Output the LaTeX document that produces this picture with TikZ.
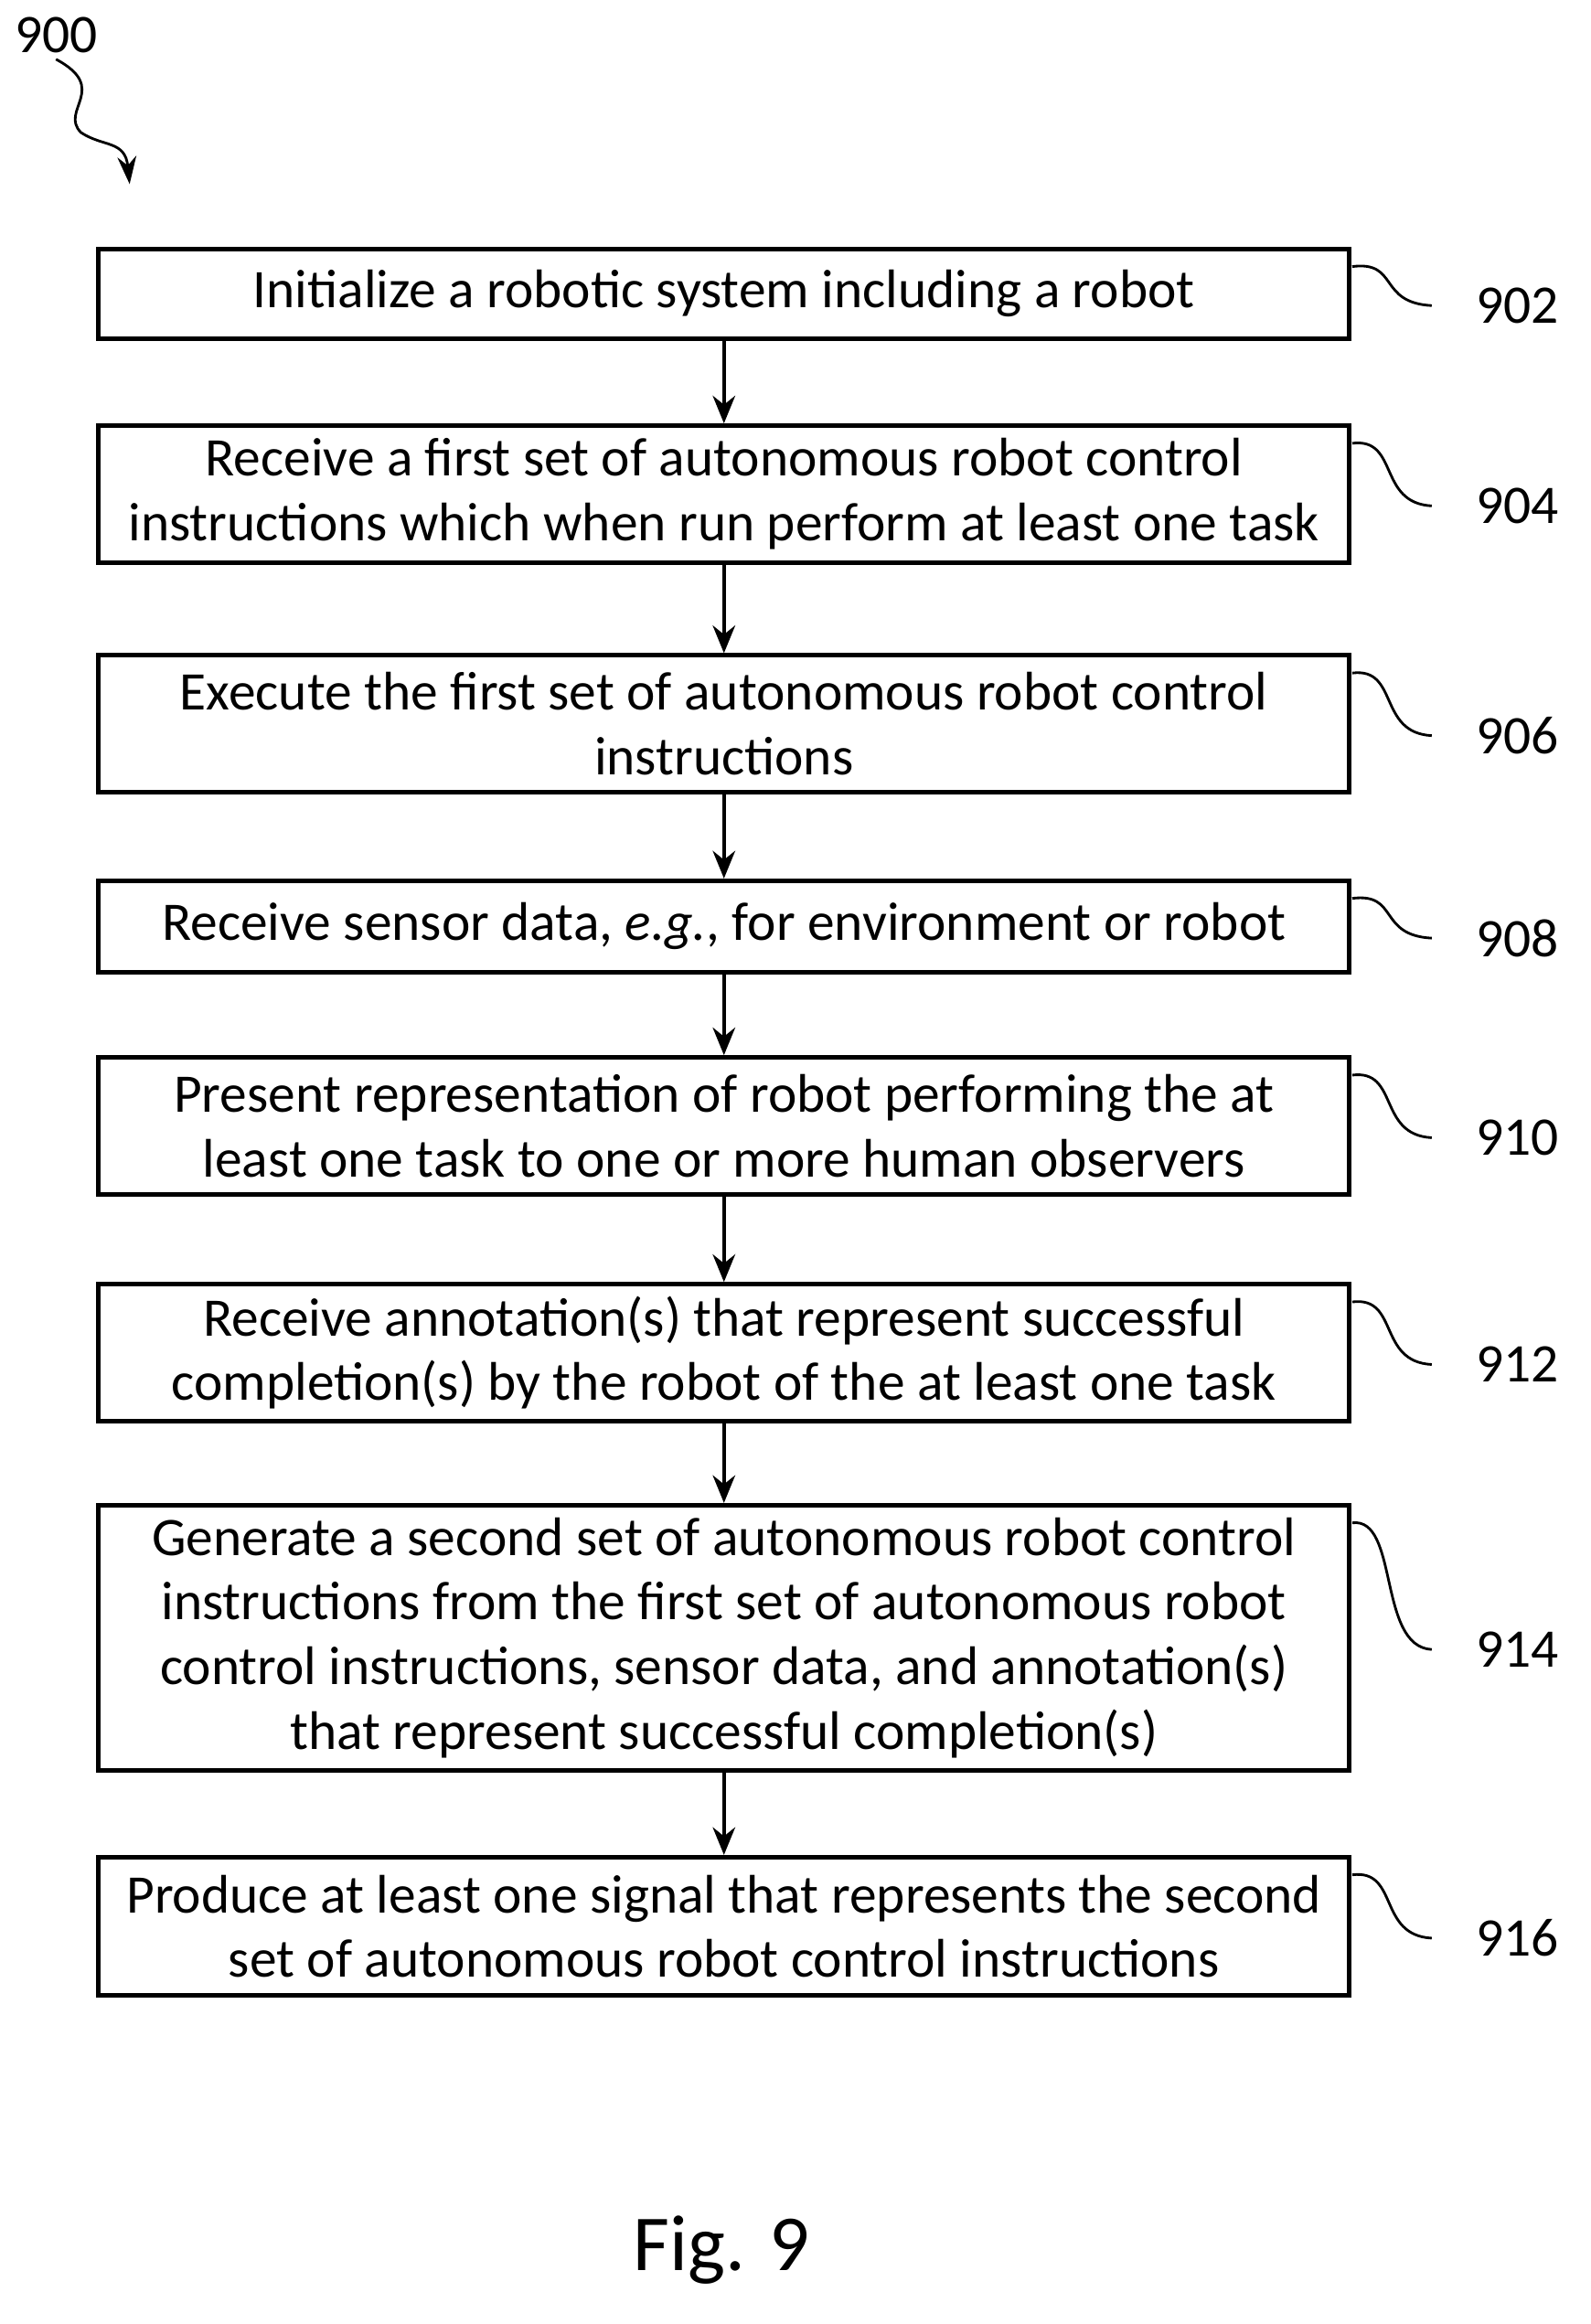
\documentclass[tikz,border=0pt]{standalone}
\usepackage{fontspec}
\setmainfont{Carlito}
\usetikzlibrary{arrows.meta}
\begin{document}
\begin{tikzpicture}[x=0.03cm,y=-0.03cm,
 box/.style={draw,line width=2.6pt,minimum width=849*0.03cm,align=center,inner sep=0pt,font=\fontsize{31.5}{37.5}\selectfont},
 arr/.style={line width=2.2pt,-{Stealth[length=16pt,width=13pt]}},
 lead/.style={line width=1.5pt},
 lab/.style={font=\fontsize{31.5}{36}\selectfont}]
\useasboundingbox (0,0) rectangle (1080,1578);
\def\B#1#2#3#4{\node[box,minimum height=(#3-#2)*0.03cm] (b#1) at (491.5,{(#2+#3)/2}) {#4};
 \draw[lead] (918,{#2+12}) .. controls (950,{#2+8}) and (935,{(#2+#3)/2+6}) .. (972,{(#2+#3)/2+8});
 \node[lab] (l#1) at (1030,{(#2+#3)/2+8}) {#1};}
\B{902}{169}{230}{Initialize a robotic system including a robot}
\B{904}{289}{382}{Receive a first set of autonomous robot control\\instructions which when run perform at least one task}
\B{906}{445}{538}{Execute the first set of autonomous robot control\\instructions}
\B{908}{598}{660}{Receive sensor data, \emph{e.g.}, for environment or robot}
\B{910}{718}{811}{Present representation of robot performing the at\\least one task to one or more human observers}
\B{912}{872}{965}{Receive annotation(s) that represent successful\\completion(s) by the robot of the at least one task}
\B{914}{1022}{1202}{Generate a second set of autonomous robot control\\instructions from the first set of autonomous robot\\control instructions, sensor data, and annotation(s)\\that represent successful completion(s)}
\B{916}{1261}{1355}{Produce at least one signal that represents the second\\set of autonomous robot control instructions}
\foreach \a/\b in {902/904,904/906,906/908,908/910,910/912,912/914,914/916}
 \draw[arr] (b\a) -- (b\b);
\node[lab] (n900) at (38,24) {900};
\coordinate (e900) at (88,125);
\draw[line width=1.5pt,-{Stealth[length=16pt,width=11pt]}] (n900.south) .. controls (75,60) and (40,75) .. (55,90) .. controls (70,100) and (85,95) .. (e900);
\node[font=\fontsize{46}{50}\selectfont] (fig) at (490,1528) {Fig. 9};
\end{tikzpicture}
\end{document}
